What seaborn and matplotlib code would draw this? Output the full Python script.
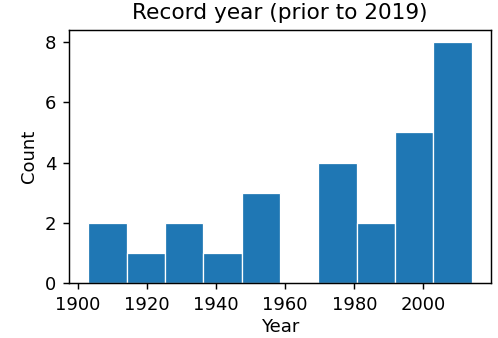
import numpy as np
import pandas as pd
import matplotlib
matplotlib.use("Agg")
import matplotlib.pyplot as plt
import seaborn as sns

# Histogram of record years: 10 equal bins between the earliest and latest record
first_year, last_year, n_bins = 1903, 2014, 10
counts = [2, 1, 2, 1, 3, 0, 4, 2, 5, 8]
bin_edges = np.linspace(first_year, last_year, n_bins + 1)
bin_centers = (bin_edges[:-1] + bin_edges[1:]) / 2

df = pd.DataFrame({"year": bin_centers, "count": counts})

DPI = 130
fig = plt.figure(figsize=(498 / DPI, 338 / DPI), dpi=DPI)
ax = fig.add_axes([69 / 498, 55 / 338, 422 / 498, 253 / 338])

sns.histplot(data=df, x="year", weights="count", bins=n_bins,
             binrange=(first_year, last_year), ax=ax,
             color="#1f77b4", alpha=1.0, edgecolor="white", linewidth=0.7)

ax.set_title("Record year (prior to 2019)", fontsize=12)
ax.set_xlabel("Year", fontsize=10, labelpad=2.5)
ax.set_ylabel("Count", fontsize=10)
ax.set_xticks([1900, 1920, 1940, 1960, 1980, 2000])
ax.set_yticks([0, 2, 4, 6, 8])
ax.tick_params(labelsize=10)
ax.set_xlim(first_year - 0.05 * 111, last_year + 0.05 * 111)
ax.set_ylim(0, 8.4)

fig.savefig("out.png", dpi=DPI)
